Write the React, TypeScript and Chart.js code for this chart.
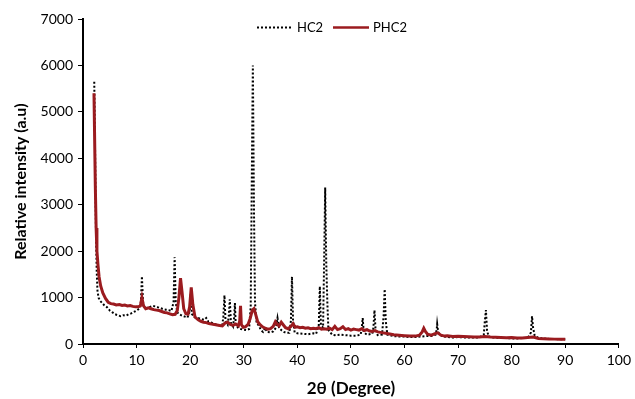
import React, { useEffect, useRef } from "react";
import { Chart, registerables } from "chart.js";

Chart.register(...registerables);

// 2θ (degree) and intensity of HC2 (dotted black)
const hc2Angle = [
  2.1, 2.25, 2.4, 2.55, 2.7, 2.9, 3.2, 3.6, 4.0, 4.5, 5.0, 5.5, 6.0, 6.5, 7.0, 7.5, 8.0, 8.5, 9.0, 9.5,
  10.0, 10.5, 10.8, 11.0, 11.2, 11.5, 12.0, 12.5, 13.0, 13.5, 14.0, 14.5, 15.0, 15.5, 16.0, 16.5, 16.9, 17.1, 17.3, 17.6,
  18.0, 18.5, 19.0, 19.5, 19.9, 20.1, 20.3, 20.8, 21.5, 22.0, 22.6, 23.0, 23.4, 24.0, 24.5, 25.0, 25.5, 26.0, 26.2, 26.4,
  26.6, 27.0, 27.2, 27.4, 27.6, 28.0, 28.2, 28.35, 28.5, 29.0, 29.5, 30.0, 30.5, 31.0, 31.3, 31.5, 31.7, 31.9, 32.1, 32.4,
  32.8, 33.2, 33.6, 34.0, 34.3, 35.0, 35.5, 36.0, 36.3, 36.6, 37.0, 37.5, 38.0, 38.5, 38.8, 39.0, 39.2, 39.5, 40.0, 41.0,
  42.0, 43.0, 43.5, 44.0, 44.2, 44.4, 44.8, 45.0, 45.2, 45.4, 45.6, 45.8, 46.5, 47.0, 48.0, 49.0, 50.0, 51.0, 51.8, 52.0,
  52.2, 52.4, 53.0, 54.0, 54.2, 54.4, 54.6, 55.0, 55.8, 56.1, 56.3, 56.5, 56.8, 57.5, 58.0, 59.0, 60.0, 61.0, 62.0, 63.0,
  64.0, 65.0, 65.8, 66.0, 66.1, 66.3, 67.0, 68.0, 69.0, 70.0, 71.0, 72.0, 73.0, 74.0, 74.8, 75.0, 75.2, 75.4, 75.7, 76.5,
  78.0, 79.0, 80.0, 81.0, 82.0, 83.0, 83.6, 83.8, 84.0, 84.3, 85.0, 86.0, 87.0, 88.0, 89.0, 90.0,
];
const hc2Intensity = [
  5650, 4200, 2600, 1600, 1150, 1000, 930, 880, 830, 790, 720, 680, 640, 620, 600, 620, 610, 640, 660, 690,
  720, 760, 900, 1460, 900, 780, 770, 800, 820, 810, 790, 770, 750, 740, 730, 710, 900, 1870, 900, 680,
  640, 610, 590, 570, 700, 1080, 650, 580, 560, 540, 520, 560, 480, 460, 430, 420, 400, 400, 600, 1050,
  500, 420, 600, 960, 460, 380, 550, 880, 420, 340, 320, 310, 300, 320, 800, 3500, 6000, 3000, 900, 450,
  400, 300, 260, 350, 260, 250, 270, 350, 560, 350, 300, 260, 240, 240, 500, 1450, 500, 250, 230, 220,
  210, 230, 220, 400, 1240, 400, 350, 1750, 3370, 1750, 900, 300, 200, 190, 200, 190, 180, 180, 200, 300,
  560, 250, 200, 220, 350, 730, 300, 190, 200, 600, 1180, 500, 200, 180, 170, 160, 160, 150, 150, 160,
  170, 170, 200, 300, 430, 250, 170, 150, 140, 150, 140, 140, 140, 140, 200, 500, 730, 300, 160, 140,
  130, 130, 120, 120, 130, 130, 250, 600, 350, 180, 130, 120, 110, 110, 100, 100,
];

// 2θ (degree) and intensity of PHC2 (solid dark red)
const phc2Angle = [
  2.05, 2.15, 2.3, 2.45, 2.6, 2.8, 3.0, 3.3, 3.7, 4.2, 4.7, 5.2, 5.7, 6.2, 6.8, 7.3, 7.8, 8.3, 8.8, 9.3,
  9.8, 10.3, 10.7, 11.0, 11.3, 11.7, 12.2, 12.7, 13.2, 13.7, 14.2, 14.7, 15.2, 15.7, 16.2, 16.7, 17.2, 17.6, 17.9, 18.2,
  18.5, 18.8, 19.2, 19.6, 19.9, 20.2, 20.5, 20.9, 21.5, 22.0, 22.5, 23.0, 23.5, 24.0, 24.5, 25.0, 25.5, 26.0, 26.5, 27.0,
  27.5, 28.0, 28.5, 29.0, 29.25, 29.4, 29.55, 29.9, 30.3, 30.8, 31.2, 31.6, 31.9, 32.2, 32.6, 33.0, 33.5, 34.0, 34.5, 35.0,
  35.5, 35.9, 36.2, 36.6, 37.0, 37.4, 37.8, 38.3, 38.8, 39.2, 39.6, 40.0, 40.5, 41.0, 41.5, 42.0, 42.5, 43.0, 43.5, 44.0,
  44.5, 45.0, 45.5, 46.0, 46.5, 47.0, 47.5, 48.0, 48.5, 49.0, 49.5, 50.0, 50.5, 51.0, 51.5, 52.0, 52.5, 53.0, 53.5, 54.0,
  54.5, 55.0, 55.5, 56.0, 56.5, 57.0, 57.5, 58.0, 59.0, 60.0, 61.0, 62.0, 62.8, 63.3, 63.6, 63.9, 64.3, 65.0, 65.8, 66.2,
  66.8, 67.5, 68.0, 69.0, 70.0, 71.0, 72.0, 73.0, 74.0, 75.0, 76.0, 77.0, 78.0, 79.0, 80.0, 81.0, 82.0, 83.0, 84.0, 85.0,
  86.0, 87.0, 88.0, 89.0, 90.0,
];
const phc2Intensity = [
  5400, 4600, 3400, 2500, 2000, 1700, 1450, 1250, 1100, 980, 900, 870, 860, 840, 850, 830, 840, 820, 830, 810,
  800, 800, 820, 1000, 820, 760, 780, 760, 740, 730, 720, 700, 680, 670, 650, 630, 640, 720, 1000, 1420,
  1100, 760, 650, 640, 800, 1220, 850, 580, 520, 490, 470, 460, 440, 430, 420, 410, 400, 390, 450, 470,
  420, 400, 430, 390, 500, 820, 420, 360, 370, 420, 550, 730, 760, 650, 480, 420, 370, 340, 320, 330,
  380, 480, 430, 390, 470, 410, 350, 330, 380, 440, 360, 370, 350, 360, 340, 350, 330, 340, 330, 350,
  320, 330, 320, 340, 310, 380, 310, 330, 370, 310, 330, 300, 320, 310, 300, 330, 290, 310, 280, 270,
  290, 260, 250, 240, 230, 220, 210, 200, 190, 180, 170, 170, 190, 260, 340, 270, 210, 190, 230, 240,
  190, 170, 175, 160, 165, 160, 155, 150, 150, 160, 150, 145, 140, 135, 140, 130, 130, 140, 150, 120,
  115, 110, 105, 100, 100,
];

const seriesLabels = ["HC2", "PHC2"];
const xTicks = [0, 10, 20, 30, 40, 50, 60, 70, 80, 90, 100];
const yTicks = [0, 1000, 2000, 3000, 4000, 5000, 6000, 7000];

const toPoints = (xs: number[], ys: number[]) => xs.map((x, i) => ({ x, y: ys[i] }));

const FONT = "Lato, 'Open Sans', sans-serif";
const RED = "#9B1B1F";

const legendPlugin = {
  id: "customLegend",
  afterDraw(chart: any) {
    const ctx = chart.ctx;
    const y = 27.5;
    ctx.save();
    ctx.font = `13px ${FONT}`;
    ctx.textBaseline = "middle";
    ctx.fillStyle = "#000";
    ctx.strokeStyle = "#000";
    ctx.lineWidth = 2;
    ctx.setLineDash([2, 2]);
    ctx.beginPath();
    ctx.moveTo(257, y);
    ctx.lineTo(293, y);
    ctx.stroke();
    ctx.fillText(chart.data.datasets[0].label, 297, y);
    ctx.setLineDash([]);
    ctx.strokeStyle = RED;
    ctx.lineWidth = 2.5;
    ctx.beginPath();
    ctx.moveTo(333, y);
    ctx.lineTo(369, y);
    ctx.stroke();
    ctx.fillText(chart.data.datasets[1].label, 373, y);
    ctx.restore();
  },
};

export default function App() {
  const ref = useRef<HTMLCanvasElement | null>(null);

  useEffect(() => {
    document.body.style.margin = "0";
    const canvas = ref.current;
    if (!canvas) return;
    const chart = new Chart(canvas, {
      type: "line",
      data: {
        datasets: [
          {
            label: seriesLabels[0],
            data: toPoints(hc2Angle, hc2Intensity),
            borderColor: "#000",
            borderWidth: 2,
            borderDash: [2, 2],
            pointRadius: 0,
            tension: 0,
            order: 1,
          },
          {
            label: seriesLabels[1],
            data: toPoints(phc2Angle, phc2Intensity),
            borderColor: RED,
            borderWidth: 3,
            pointRadius: 0,
            tension: 0,
            order: 0,
          },
        ],
      },
      options: {
        responsive: false,
        animation: false,
        layout: { padding: { top: 19, right: 14, left: 0, bottom: 0 } },
        plugins: { legend: { display: false }, tooltip: { enabled: false } },
        scales: {
          x: {
            type: "linear",
            min: 0,
            max: 100,
            afterFit: (s: any) => { s.height = 55; },
            afterBuildTicks: (s: any) => { s.ticks = xTicks.map((v) => ({ value: v })); },
            grid: { drawOnChartArea: false, color: "#000", tickLength: 4, tickWidth: 1 },
            border: { color: "#000", width: 2 },
            ticks: {
              color: "#000",
              font: { family: FONT, size: 14 },
              padding: 4,
              maxRotation: 0,
              callback: (v: any) => String(v),
            },
            title: {
              display: true,
              text: "2θ (Degree)",
              color: "#000",
              font: { family: FONT, size: 17, weight: "bold" },
              padding: { top: 0, bottom: 0 },
            },
          },
          y: {
            min: 0,
            max: 7000,
            afterFit: (s: any) => { s.width = 83; },
            afterBuildTicks: (s: any) => { s.ticks = yTicks.map((v) => ({ value: v })); },
            grid: { drawOnChartArea: false, color: "#000", tickLength: 5, tickWidth: 1 },
            border: { color: "#000", width: 2 },
            ticks: {
              color: "#000",
              font: { family: FONT, size: 14 },
              padding: 5,
              callback: (v: any) => String(v),
            },
            title: {
              display: true,
              text: "Relative intensity (a.u)",
              color: "#000",
              font: { family: FONT, size: 16, weight: "bold" },
              padding: { top: 11, bottom: 0 },
            },
          },
        },
      },
      plugins: [legendPlugin],
    } as any);
    return () => chart.destroy();
  }, []);

  return (
    <div style={{ position: "fixed", left: 0, top: 0, width: 635, height: 399, background: "#fff" }}>
      <canvas ref={ref} width={635} height={399} />
    </div>
  );
}
